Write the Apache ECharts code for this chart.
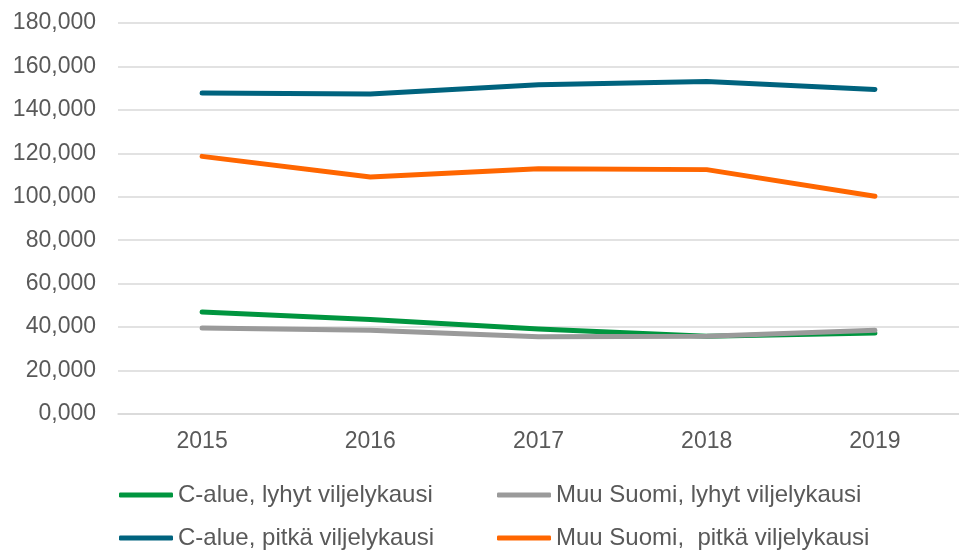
<!DOCTYPE html>
<html>
<head>
<meta charset="utf-8">
<script src="https://cdn.jsdelivr.net/npm/echarts@6/dist/echarts.min.js"></script>
<style>
  html, body { margin: 0; padding: 0; background: #fff; }
  #chart { width: 959px; height: 550px; }
</style>
</head>
<body>
<div id="chart"></div>
<script>
const years = ['2015', '2016', '2017', '2018', '2019'];
const cLyhyt = [47.0, 43.5, 39.1, 35.8, 37.3];
const muuLyhyt = [39.6, 38.6, 35.6, 35.8, 38.5];
const cPitka = [147.8, 147.3, 151.6, 153.1, 149.4];
const muuPitka = [118.6, 109.1, 112.9, 112.5, 100.2];

const names = [
  'C-alue, lyhyt viljelykausi',
  'Muu Suomi, lyhyt viljelykausi',
  'C-alue, pitkä viljelykausi',
  'Muu Suomi,  pitkä viljelykausi'
];
const colors = ['#00953f', '#9a9a9a', '#00637e', '#ff6600'];
const values = [cLyhyt, muuLyhyt, cPitka, muuPitka];

const font = 'Liberation Sans, Arial, sans-serif';
const chart = echarts.init(document.getElementById('chart'));

// two columns of legend, each one vertical
function legendCol(left, data) {
  return {
    orient: 'vertical',
    left: left,
    top: 483,
    height: 67,
    padding: 0,
    data: data,
    icon: 'roundRect',
    itemWidth: 54,
    itemHeight: 5,
    itemGap: 19,
    itemTextGap: 4,
    selectedMode: false,
    textStyle: { color: '#595959', fontSize: 24, fontFamily: font, lineHeight: 24 }
  };
}

chart.setOption({
  animation: false,
  grid: { left: 118, top: 23, width: 846, height: 391 },
  legend: [
    legendCol(119, [names[0], names[2]]),
    legendCol(497, [names[1], names[3]])
  ],
  xAxis: {
    type: 'category',
    data: years,
    boundaryGap: true,
    axisLine: { lineStyle: { color: '#d9d9d9', width: 1.5 } },
    axisTick: { show: false },
    axisLabel: { color: '#595959', fontSize: 23, fontFamily: font, margin: 16 }
  },
  yAxis: {
    type: 'value',
    min: 0,
    max: 180,
    interval: 20,
    axisLine: { show: false },
    axisTick: { show: false },
    splitLine: { lineStyle: { color: '#d9d9d9', width: 1.5 } },
    axisLabel: {
      color: '#595959', fontSize: 23, fontFamily: font, margin: 22,
      formatter: v => v.toFixed(3).replace('.', ',')
    }
  },
  series: names.map((n, i) => ({
    name: n,
    type: 'line',
    data: values[i],
    symbol: 'none',
    color: colors[i],
    lineStyle: { width: 5, color: colors[i], cap: 'round', join: 'round' }
  }))
});
</script>
</body>
</html>
